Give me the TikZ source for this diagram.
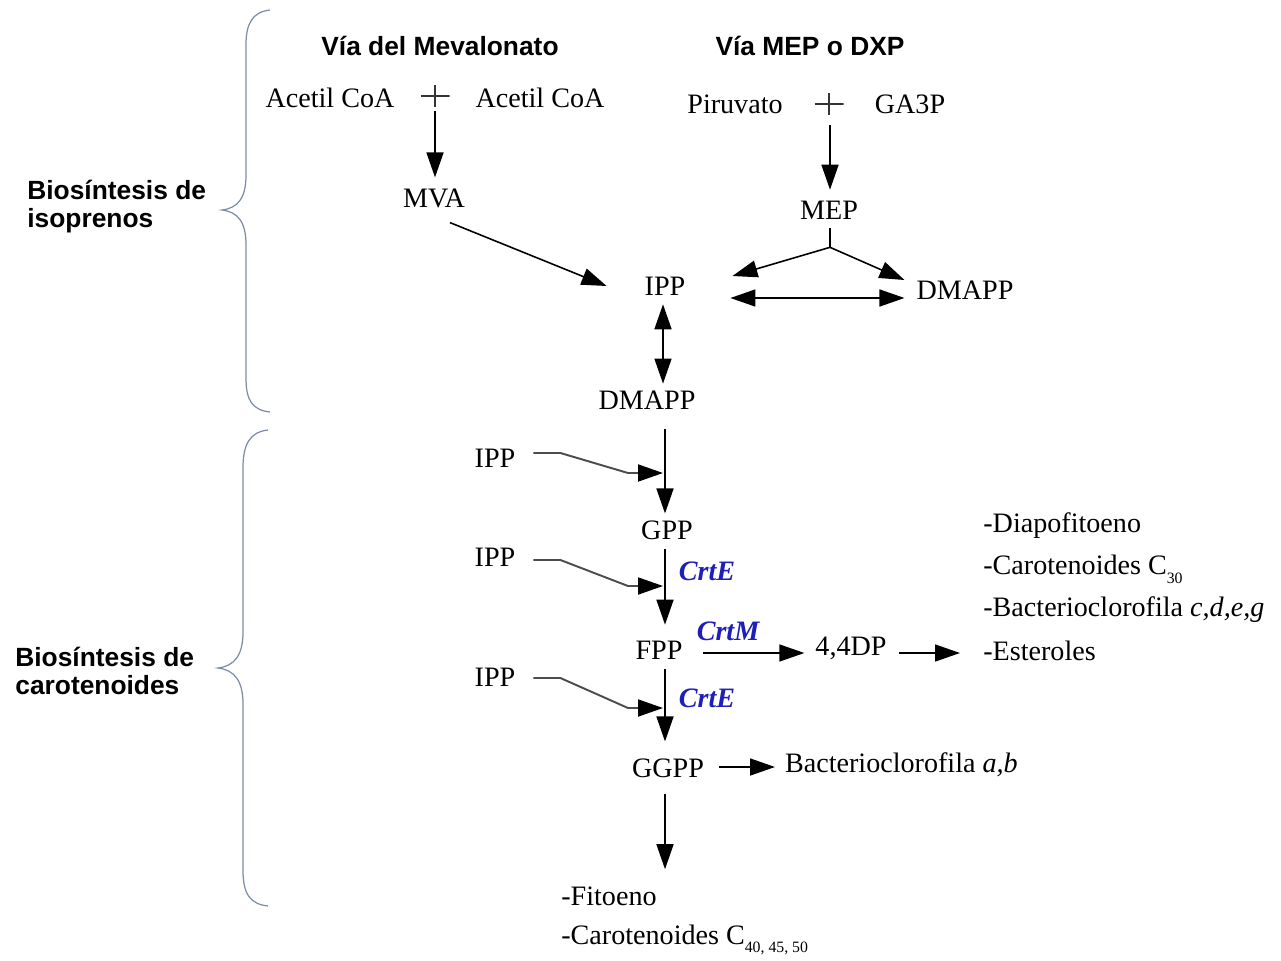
\documentclass[tikz,border=0pt]{standalone}
\usepackage{fontspec}
\setmainfont{Liberation Serif}
\setsansfont{Liberation Sans}
\usetikzlibrary{arrows.meta, positioning, calc}
\definecolor{Enzazul}{RGB}{30,30,185}
\definecolor{Llavegris}{RGB}{125,140,165}
\newcommand{\subind}[1]{\raisebox{-5pt}{\fontsize{9}{9}\selectfont #1}}

\begin{document}
\begin{tikzpicture}[x=0.02cm, y=-0.02cm,
    met/.style={font=\fontsize{16}{19}\selectfont, inner sep=1pt},
    lista/.style={met, anchor=west, inner sep=0pt},
    tit/.style={font=\sffamily\bfseries\fontsize{15}{16}\selectfont, inner sep=0pt},
    grupo/.style={tit, align=left, anchor=west},
    enz/.style={font=\bfseries\itshape\fontsize{16}{19}\selectfont,
        text=Enzazul, inner sep=0pt},
    mas/.style={minimum width=0.58cm, minimum height=0.44cm, inner sep=0pt,
        path picture={\draw[line width=0.7pt, black!80]
          (path picture bounding box.north) -- (path picture bounding box.south)
          (path picture bounding box.west) -- (path picture bounding box.east);}},
    arr/.style={-{Triangle[length=0.5cm, width=0.34cm]}, line width=0.9pt},
    darr/.style={{Triangle[length=0.5cm, width=0.34cm]}-{Triangle[length=0.5cm, width=0.34cm]},
        line width=0.9pt},
    entra/.style={-{Triangle[length=0.5cm, width=0.34cm, color=black]},
        draw=black!70, line width=1.1pt},
    llave/.style={draw=Llavegris, line width=0.7pt}]
  \useasboundingbox (0,0) rectangle (1281,960);
  % Titulos de las dos vias
  \node[tit] (tmva) at (440,46) {Vía del Mevalonato};
  \node[tit] (tmep) at (810,46) {Vía MEP o DXP};
  % Sustratos
  \node[met] (acoa1) at (330,98) {Acetil CoA};
  \node[mas] (mas1) at (435,96) {};
  \node[met] (acoa2) at (540,98) {Acetil CoA};
  \node[met] (piru) at (735,104) {Piruvato};
  \node[mas] (mas2) at (829,104) {};
  \node[met] (ga3p) at (910,104) {GA3P};
  % Isoprenos
  \node[met] (mva) at (434,198) {MVA};
  \node[met] (mep) at (829,210) {MEP};
  \node[met] (ipp) at (665,286) {IPP};
  \node[met] (dmappr) at (965,290) {DMAPP};
  \node[met] (dmapp) at (647,400) {DMAPP};
  % Cadena de carotenoides
  \node[met] (gpp) at (667,530) {GPP};
  \node[met] (fpp) at (659,650) {FPP};
  \node[met] (ggpp) at (668,768) {GGPP};
  \node[met] (ippa) at (495,458) {IPP};
  \node[met] (ippb) at (495,557) {IPP};
  \node[met] (ippc) at (495,677) {IPP};
  \node[met] (dp) at (851,648) {4,4DP};
  \node[met, anchor=west] (bclab) at (783,765) {Bacterioclorofila \textit{a,b}};
  % Enzimas
  \node[enz] (crte1) at (707,571) {CrtE};
  \node[enz] (crtm) at (728,631) {CrtM};
  \node[enz] (crte2) at (707,698) {CrtE};
  % Productos
  \node[lista] (diapo) at (983,526) {-Diapofitoeno};
  \node[lista] (car30) at (983,569) {-Carotenoides C\subind{30}};
  \node[lista] (bcl) at (983,610) {-Bacterioclorofila \textit{c,d,e,g}};
  \node[lista] (ester) at (983,651) {-Esteroles};
  \node[lista] (fito) at (561,896) {-Fitoeno};
  \node[lista] (car40) at (561,940) {-Carotenoides C\subind{40, 45, 50}};
  % Grupos
  \node[grupo] (giso) at (27,207) {Biosíntesis de\\isoprenos};
  \node[grupo] (gcar) at (15,671) {Biosíntesis de\\carotenoides};
  % Flechas de las vias
  \draw[arr] ($(mas1.south)+(0,4)$) -- ($(mva.north)+(1,-9)$);
  \draw[arr] ($(mas2.south)+(1,10)$) -- ($(mep.north)+(1,-9)$);
  \draw[arr] ($(mva.south)+(16,13)$) -- ($(ipp.west)+(-36,0)$);
  \coordinate (rama) at ($(mep.south)+(1,26)$);
  \draw[line width=0.9pt] ($(mep.south)+(1,7)$) -- (rama);
  \draw[arr] (rama) -- ($(ipp.east)+(45,-10)$);
  \draw[arr] (rama) -- ($(dmappr.west)+(-10,-10)$);
  \draw[darr] ($(ipp.east)+(43,12)$) -- ($(dmappr.west)+(-10,8)$);
  \draw[darr] ($(ipp.south)+(-2,7)$) -- ($(ipp.south |- dmapp.north)+(-2,-5)$);
  % Flechas de la cadena
  \draw[arr] ($(dmapp.south -| gpp.north)+(-2,18)$) -- ($(gpp.north)+(-2,-5)$);
  \draw[arr] ($(gpp.south)+(-2,7)$) -- ($(gpp.south |- fpp.north)+(-2,-14)$);
  \draw[arr] ($(fpp.south -| gpp.south)+(-2,8)$) -- ($(ggpp.north -| gpp.south)+(-2,-15)$);
  \draw[arr] ($(fpp.east)+(18,3)$) -- ($(dp.west)+(-9,5)$);
  \draw[arr] ($(dp.east)+(10,5)$) -- ($(ester.west)+(-23,2)$);
  \draw[arr] ($(ggpp.east)+(13,-1)$) -- ($(bclab.west)+(-8,2)$);
  \draw[arr] ($(ggpp.south)+(-3,14)$) -- ($(fito.north -| ggpp.south)+(-3,-17)$);
  % Entradas de IPP
  \coordinate (ua) at (663,473);
  \coordinate (ub) at (663,586);
  \coordinate (uc) at (663,708);
  \draw[entra] ($(ippa.east)+(16,-5)$) -- ++(27,0) -- ($(ua)+(-35,0)$) -- (ua);
  \draw[entra] ($(ippb.east)+(16,3)$) -- ++(27,0) -- ($(ub)+(-35,0)$) -- (ub);
  \draw[entra] ($(ippc.east)+(16,1)$) -- ++(27,0) -- ($(uc)+(-35,0)$) -- (uc);
  % Llaves
  \draw[llave] (270,10) .. controls (252,12) and (246,24) .. (246,45)
    -- (246,175) .. controls (246,198) and (238,208) .. (222,210)
    .. controls (238,212) and (246,222) .. (246,245)
    -- (246,378) .. controls (246,400) and (252,410) .. (270,412);
  \draw[llave] (268,430) .. controls (250,432) and (243,444) .. (243,468)
    -- (243,632) .. controls (243,656) and (234,666) .. (218,668)
    .. controls (234,670) and (243,680) .. (243,704)
    -- (243,870) .. controls (243,894) and (250,904) .. (268,906);
\end{tikzpicture}
\end{document}
